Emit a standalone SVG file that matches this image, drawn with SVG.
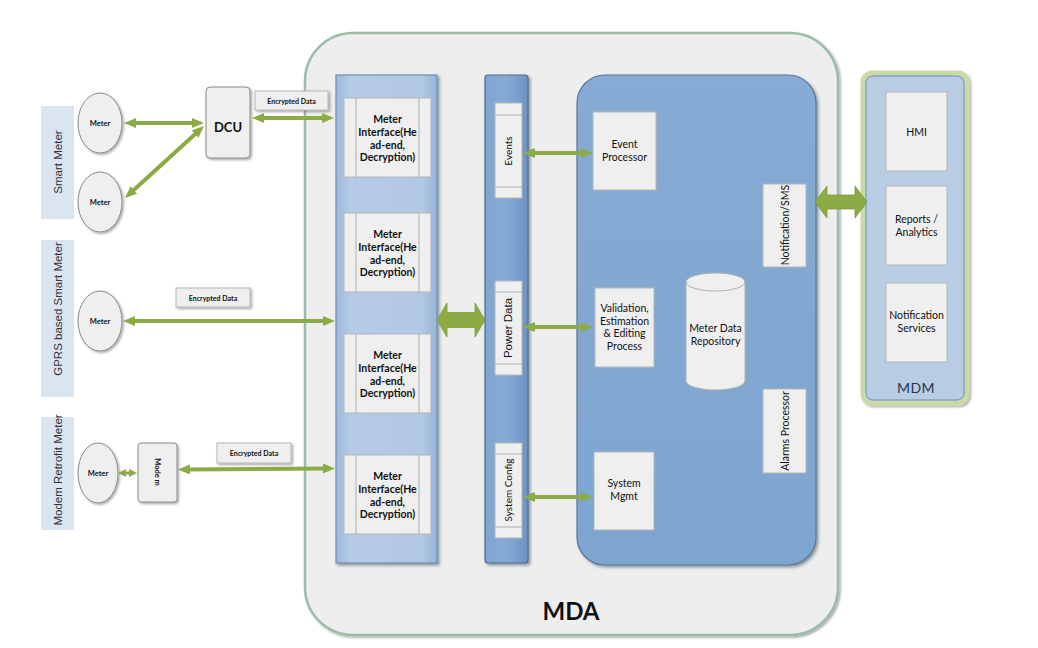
<svg xmlns="http://www.w3.org/2000/svg" width="1038" height="648" viewBox="0 0 1038 648">
<defs>
<style>
.t{font-family:Lato,"Liberation Sans",Arial,sans-serif;fill:#111;text-anchor:middle}
.b{font-weight:bold}
.lab{font-family:"Liberation Sans",Arial,sans-serif;font-size:11.5px;fill:#333;text-anchor:middle}
.box{fill:#efefef;stroke:#b5b5b5;stroke-width:1}
.grey{fill:#efefef;stroke:#8a8a8a;stroke-width:1}
.side{fill:#dbe5f1}
.con{fill:none;stroke:#8dab45;stroke-width:4}
.fat{fill:#8dab45;stroke:#7f9d3b;stroke-width:0.8}
.ln{stroke:#b0b0b0;stroke-width:1}
</style>
<marker id="ah" viewBox="0 0 12 10" markerWidth="12" markerHeight="10" refX="5" refY="5" orient="auto-start-reverse" markerUnits="userSpaceOnUse">
<path d="M0,0 L12,5 L0,10 z" fill="#8dab45"/>
</marker>
<marker id="ahs" viewBox="0 0 8 8" markerWidth="8" markerHeight="8" refX="4" refY="4" orient="auto-start-reverse" markerUnits="userSpaceOnUse">
<path d="M0,0 L8,4 L0,8 z" fill="#8dab45"/>
</marker>
<filter id="sh" x="-20%" y="-20%" width="140%" height="140%">
<feDropShadow dx="1.5" dy="1.5" stdDeviation="1.2" flood-color="#000" flood-opacity="0.35"/>
</filter>
<filter id="sh2" x="-10%" y="-10%" width="120%" height="120%">
<feDropShadow dx="2" dy="2" stdDeviation="1.5" flood-color="#2a3a50" flood-opacity="0.5"/>
</filter>
<linearGradient id="gMI" x1="0" y1="0" x2="1" y2="0">
<stop offset="0" stop-color="#9fb9da"/>
<stop offset="0.15" stop-color="#b6cbe5"/>
<stop offset="0.85" stop-color="#b2c8e3"/>
<stop offset="1" stop-color="#97b3d6"/>
</linearGradient>
<linearGradient id="gMid" x1="0" y1="0" x2="1" y2="0">
<stop offset="0" stop-color="#7fa5d1"/>
<stop offset="0.5" stop-color="#86aad4"/>
<stop offset="1" stop-color="#6b93c3"/>
</linearGradient>
<linearGradient id="gRB" x1="0" y1="0" x2="0" y2="1">
<stop offset="0" stop-color="#86abd4"/>
<stop offset="1" stop-color="#7ea5d0"/>
</linearGradient>
</defs>

<rect width="1038" height="648" fill="#ffffff"/>

<g id="mda">
<rect x="305" y="33" width="533" height="602" rx="48" fill="#eeeeee" stroke="#9ebba7" stroke-width="2.5" filter="url(#sh)"/>
<text class="t b" x="571" y="620" font-size="24">MDA</text>
</g>

<g id="side-labels">
<g id="lbl-smart"><rect class="side" x="41" y="106" width="33" height="113"/><text class="lab" transform="translate(62,162) rotate(-90)">Smart Meter</text></g>
<g id="lbl-gprs"><rect class="side" x="41" y="240" width="33" height="157"/><text class="lab" transform="translate(62,309) rotate(-90)">GPRS based Smart Meter</text></g>
<g id="lbl-modem"><rect class="side" x="41" y="417" width="33" height="113"/><text class="lab" transform="translate(62,470) rotate(-90)">Modem Retrofit Meter</text></g>
</g>

<g id="meter1"><ellipse class="grey" cx="100" cy="123" rx="22" ry="30" filter="url(#sh)"/><text class="t b" x="100" y="126" font-size="7.5">Meter</text></g>
<g id="meter2"><ellipse class="grey" cx="100" cy="202" rx="22" ry="30" filter="url(#sh)"/><text class="t b" x="100" y="205" font-size="7.5">Meter</text></g>
<g id="meter3"><ellipse class="grey" cx="100" cy="321" rx="22" ry="30" filter="url(#sh)"/><text class="t b" x="100" y="324" font-size="7.5">Meter</text></g>
<g id="meter4"><ellipse class="grey" cx="98" cy="473" rx="20" ry="30" filter="url(#sh)"/><text class="t b" x="98" y="476" font-size="7.5">Meter</text></g>

<g id="dcu"><rect class="grey" x="206" y="87" width="44" height="71" rx="4" filter="url(#sh)"/><text class="t b" x="228" y="132" font-size="13">DCU</text></g>
<g id="modem"><rect class="grey" x="138" y="443" width="39" height="59" rx="3" filter="url(#sh)"/><text class="t b" transform="translate(155,472) rotate(90)" font-size="7.5">Mode m</text></g>

<g id="enc1"><rect class="box" x="255" y="91" width="73" height="19" filter="url(#sh)"/><text class="t b" x="291.5" y="103.5" font-size="7">Encrypted Data</text></g>
<g id="enc2"><rect class="box" x="176" y="288" width="74" height="19" filter="url(#sh)"/><text class="t b" x="213" y="300.5" font-size="7">Encrypted Data</text></g>
<g id="enc3"><rect class="box" x="217" y="443" width="74" height="20" filter="url(#sh)"/><text class="t b" x="254" y="456" font-size="7">Encrypted Data</text></g>

<g id="mi-column">
<rect x="336" y="75" width="101" height="488" fill="url(#gMI)" stroke="#6f8db5" stroke-width="1.2" filter="url(#sh2)"/>
<g id="mi1"><rect class="box" x="344" y="98" width="87" height="79"/><line class="ln" x1="356" y1="98" x2="356" y2="177"/><line class="ln" x1="419" y1="98" x2="419" y2="177"/>
<text class="t b" font-size="10.5"><tspan x="387.5" y="123">Meter</tspan><tspan x="387.5" y="136">Interface(He</tspan><tspan x="387.5" y="148.5">ad-end,</tspan><tspan x="387.5" y="161">Decryption)</tspan></text></g>
<g id="mi2"><rect class="box" x="344" y="213" width="87" height="79"/><line class="ln" x1="356" y1="213" x2="356" y2="292"/><line class="ln" x1="419" y1="213" x2="419" y2="292"/>
<text class="t b" font-size="10.5"><tspan x="387.5" y="238">Meter</tspan><tspan x="387.5" y="251">Interface(He</tspan><tspan x="387.5" y="263.5">ad-end,</tspan><tspan x="387.5" y="276">Decryption)</tspan></text></g>
<g id="mi3"><rect class="box" x="344" y="334" width="87" height="79"/><line class="ln" x1="356" y1="334" x2="356" y2="413"/><line class="ln" x1="419" y1="334" x2="419" y2="413"/>
<text class="t b" font-size="10.5"><tspan x="387.5" y="359">Meter</tspan><tspan x="387.5" y="372">Interface(He</tspan><tspan x="387.5" y="384.5">ad-end,</tspan><tspan x="387.5" y="397">Decryption)</tspan></text></g>
<g id="mi4"><rect class="box" x="344" y="455" width="87" height="79"/><line class="ln" x1="356" y1="455" x2="356" y2="534"/><line class="ln" x1="419" y1="455" x2="419" y2="534"/>
<text class="t b" font-size="10.5"><tspan x="387.5" y="480">Meter</tspan><tspan x="387.5" y="493">Interface(He</tspan><tspan x="387.5" y="505.5">ad-end,</tspan><tspan x="387.5" y="518">Decryption)</tspan></text></g>
</g>

<g id="mid-bar">
<rect x="485" y="75" width="43" height="488" rx="3" fill="url(#gMid)" stroke="#4e6d94" stroke-width="1.2" filter="url(#sh2)"/>
<g id="events"><rect class="box" x="495" y="103" width="27" height="95"/><line class="ln" x1="495" y1="115" x2="522" y2="115"/><line class="ln" x1="495" y1="187" x2="522" y2="187"/>
<text class="t" transform="translate(512,151) rotate(-90)" font-size="10">Events</text></g>
<g id="power"><rect class="box" x="495" y="281" width="27" height="94"/><line class="ln" x1="495" y1="292" x2="522" y2="292"/><line class="ln" x1="495" y1="364" x2="522" y2="364"/>
<text class="lab" style="fill:#111" transform="translate(512,328) rotate(-90)" font-size="10">Power Data</text></g>
<g id="sysconfig"><rect class="box" x="495" y="443" width="27" height="95"/><line class="ln" x1="495" y1="454" x2="522" y2="454"/><line class="ln" x1="495" y1="527" x2="522" y2="527"/>
<text class="t" transform="translate(512,490) rotate(-90)" font-size="10">System Config</text></g>
</g>

<g id="core">
<rect x="577" y="75" width="239" height="490" rx="28" fill="url(#gRB)" stroke="#56789f" stroke-width="1.2" filter="url(#sh2)"/>
<g id="event-proc"><rect class="box" x="593" y="112" width="63" height="78"/><text class="t" font-size="10.5"><tspan x="624.5" y="148">Event</tspan><tspan x="624.5" y="161">Processor</tspan></text></g>
<g id="vee"><rect class="box" x="595" y="288" width="59" height="79"/><text class="t" font-size="10.5"><tspan x="624.5" y="312">Validation,</tspan><tspan x="624.5" y="324.5">Estimation</tspan><tspan x="624.5" y="337">&amp; Editing</tspan><tspan x="624.5" y="349.5">Process</tspan></text></g>
<g id="sys-mgmt"><rect class="box" x="594" y="452" width="60" height="78"/><text class="t" font-size="10.5"><tspan x="624" y="487">System</tspan><tspan x="624" y="500">Mgmt</tspan></text></g>
<g id="repo">
<path d="M686,282 A29.5,9 0 0 1 745,282 L745,381 A29.5,9 0 0 1 686,381 Z" fill="#efefef" stroke="#b0b0b0" stroke-width="1"/>
<path d="M686,282 A29.5,9 0 0 0 745,282" fill="none" stroke="#b0b0b0" stroke-width="1"/>
<text class="t" font-size="10.5"><tspan x="715.5" y="332">Meter Data</tspan><tspan x="715.5" y="345">Repository</tspan></text></g>
<g id="notif-sms"><rect class="box" x="763" y="184" width="43" height="83"/><text class="t" transform="translate(789,225) rotate(-90)" font-size="10.5">Notification/SMS</text></g>
<g id="alarms"><rect class="box" x="763" y="389" width="43" height="84"/><text class="t" transform="translate(789,431) rotate(-90)" font-size="10.5">Alarms Processor</text></g>
</g>

<g id="mdm">
<rect x="863" y="73" width="104" height="330" rx="9" fill="#b8cce4" stroke="#c9dba3" stroke-width="5" filter="url(#sh)"/>
<rect x="866" y="76" width="98" height="324" rx="7" fill="none" stroke="#6f8fb5" stroke-width="1"/>
<g id="hmi"><rect class="box" x="886" y="92" width="61" height="79"/><text class="t" x="916.5" y="136" font-size="10.5">HMI</text></g>
<g id="reports"><rect class="box" x="886" y="186" width="61" height="79"/><text class="t" font-size="10.5"><tspan x="916.5" y="223">Reports /</tspan><tspan x="916.5" y="235.5">Analytics</tspan></text></g>
<g id="notif-svc"><rect class="box" x="886" y="283" width="61" height="79"/><text class="t" font-size="10.5"><tspan x="916.5" y="319">Notification</tspan><tspan x="916.5" y="331.5">Services</tspan></text></g>
<text class="t" x="916" y="393" font-size="14" style="fill:#23364f;letter-spacing:0.5px">MDM</text>
</g>

<g id="connectors">
<path class="con" d="M131,123 L197,123" marker-start="url(#ah)" marker-end="url(#ah)"/>
<path class="con" d="M130.2,193.3 L198.8,130.7" marker-start="url(#ah)" marker-end="url(#ah)"/>
<path class="con" d="M259,118 L327,118" marker-start="url(#ah)" marker-end="url(#ah)"/>
<path class="con" d="M130,321 L328,321" marker-start="url(#ah)" marker-end="url(#ah)"/>
<path class="con" style="stroke-width:3" d="M122,473 L133,473" marker-start="url(#ahs)" marker-end="url(#ahs)"/>
<path class="con" d="M185,469.5 L328,468.5" marker-start="url(#ah)" marker-end="url(#ah)"/>
<path class="con" d="M530,153 L586,153" marker-start="url(#ah)" marker-end="url(#ah)"/>
<path class="con" d="M530,327 L586,327" marker-start="url(#ah)" marker-end="url(#ah)"/>
<path class="con" d="M530,497 L586,497" marker-start="url(#ah)" marker-end="url(#ah)"/>
<polygon class="fat" points="437,320 447,303 447,312.5 475,312.5 475,303 485,320 475,337 475,327.5 447,327.5 447,337"/>
<polygon class="fat" points="815,202 827,186 827,195 855,195 855,186 867,202 855,218 855,209 827,209 827,218"/>
</g>
</svg>
